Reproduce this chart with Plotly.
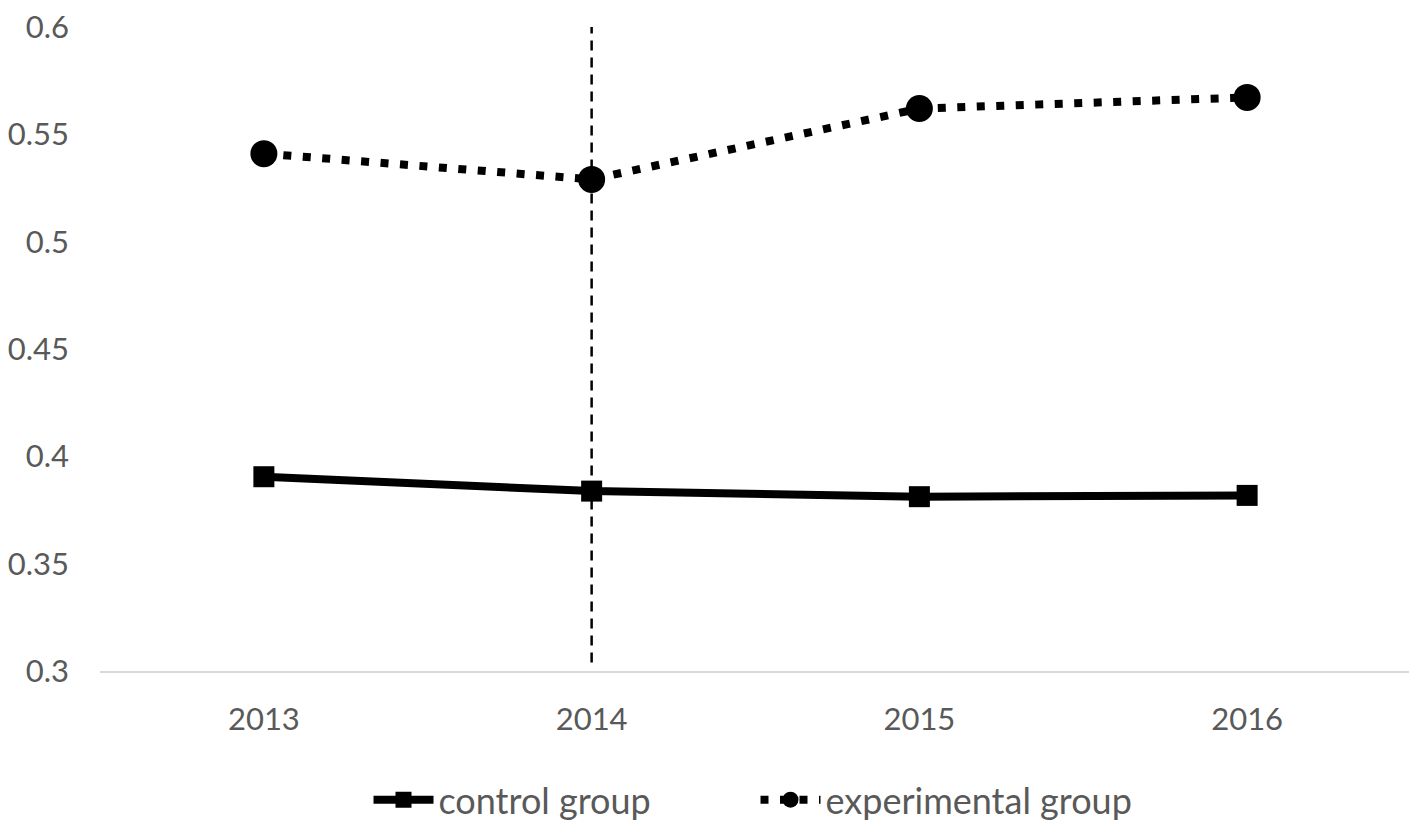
import plotly.graph_objects as go

years = ["2013", "2014", "2015", "2016"]
control = [0.3905, 0.3838, 0.3812, 0.3818]
experimental = [0.5410, 0.5290, 0.5620, 0.5672]
y_ticks = [0.3, 0.35, 0.4, 0.45, 0.5, 0.55, 0.6]
y_tick_text = ["0.3", "0.35", "0.4", "0.45", "0.5", "0.55", "0.6"]
intervention_year = "2014"

FONT = "Lato, 'Open Sans', sans-serif"
GRAY = "#595959"

fig = go.Figure()
fig.add_trace(go.Scatter(
    x=years, y=control, name="control group", mode="lines+markers",
    line=dict(color="black", width=8),
    marker=dict(symbol="square", size=21, color="black"),
))
fig.add_trace(go.Scatter(
    x=years, y=experimental, name="experimental group", mode="lines+markers",
    line=dict(color="black", width=8, dash="8px,11.5px"),
    marker=dict(symbol="circle", size=27, color="black"),
))

xi = years.index(intervention_year)
fig.add_shape(type="line", xref="x", yref="y",
              x0=xi, x1=xi, y0=0.304, y1=0.6,
              line=dict(color="black", width=2.5, dash="10px,7px"), layer="above")

fig.update_layout(
    width=1417, height=831,
    margin=dict(l=92, r=14, t=19, b=168, autoexpand=False),
    paper_bgcolor="white", plot_bgcolor="white",
    font=dict(family=FONT, size=30, color=GRAY),
    showlegend=True,
    legend=dict(orientation="h", x=0.5, xanchor="center", y=-0.2, yanchor="middle",
                font=dict(size=36, color=GRAY), itemwidth=60, entrywidth=312),
)
fig.update_xaxes(type="category", range=[-0.5, 3.5], showgrid=False,
                 showline=True, linecolor="#d9d9d9", linewidth=2, automargin=False,
                 ticks="", tickfont=dict(size=31, color=GRAY), ticklabelstandoff=20,
                 ticklabeloverflow="allow")
fig.update_yaxes(range=[0.3, 0.6], tickvals=y_ticks, ticktext=y_tick_text,
                 showgrid=False, zeroline=False, showline=False, ticks="", automargin=False,
                 tickfont=dict(size=31, color=GRAY), ticklabelstandoff=30,
                 ticklabeloverflow="allow")

fig.write_html("out.html")
